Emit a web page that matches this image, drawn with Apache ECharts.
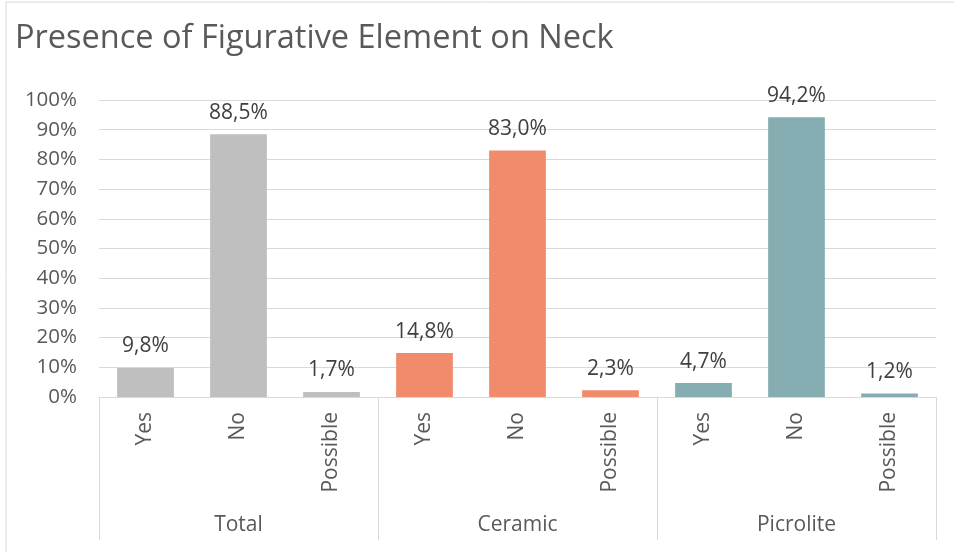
<!DOCTYPE html>
<html>
<head>
<meta charset="utf-8">
<script src="https://cdn.jsdelivr.net/npm/echarts@6/dist/echarts.min.js"></script>
<style>
  html, body { margin: 0; padding: 0; background: #fff; }
  #chart { width: 954px; height: 552px; }
</style>
</head>
<body>
<div id="chart"></div>
<script>
// data
var groups = ['Total', 'Ceramic', 'Picrolite'];
var answers = ['Yes', 'No', 'Possible'];
var totalValues = [9.8, 88.5, 1.7];
var ceramicValues = [14.8, 83.0, 2.3];
var picroliteValues = [4.7, 94.2, 1.2];
var groupColors = ['#BFBFBF', '#F08B6C', '#86AEB2'];
var yTicks = [0, 10, 20, 30, 40, 50, 60, 70, 80, 90, 100];

var font = '"Open Sans", "Noto Sans", sans-serif';
var allValues = [totalValues, ceramicValues, picroliteValues];

// flatten into the 9 bars of the two-level axis
var categories = [];
var barData = [];
groups.forEach(function (g, gi) {
    answers.forEach(function (a, ai) {
        categories.push(a);
        barData.push({ value: allValues[gi][ai], itemStyle: { color: groupColors[gi] } });
    });
});

var chart = echarts.init(document.getElementById('chart'));

var option = {
    animation: false,
    title: {
        text: 'Presence of Figurative Element on Neck',
        left: 10,
        top: 17,
        textStyle: { fontFamily: font, fontSize: 32.5, fontWeight: 'normal', color: '#595959' }
    },
    graphic: [{
        type: 'rect',
        shape: { x: 6, y: 2, width: 960, height: 560 },
        style: { fill: 'none', stroke: '#d9d9d9', lineWidth: 1 },
        silent: true
    }],
    grid: { left: 99, right: 18, top: 100, bottom: 155 },
    xAxis: [{
        type: 'category',
        data: categories,
        position: 'bottom',
        axisLine: { show: true, lineStyle: { color: '#d9d9d9', width: 1 } },
        axisTick: { show: false },
        axisLabel: {
            rotate: 90,
            margin: 15,
            fontFamily: font,
            fontSize: 21,
            color: '#595959',
            interval: 0
        }
    }, {
        type: 'category',
        data: groups,
        position: 'bottom',
        axisLine: { show: false },
        axisTick: { show: true, length: 143, lineStyle: { color: '#d9d9d9', width: 1 } },
        axisLabel: {
            margin: 118,
            fontFamily: font,
            fontSize: 21,
            color: '#595959',
            interval: 0
        }
    }],
    yAxis: {
        type: 'value',
        min: yTicks[0],
        max: yTicks[yTicks.length - 1],
        interval: yTicks[1] - yTicks[0],
        axisLine: { show: false },
        axisTick: { show: false },
        splitLine: { lineStyle: { color: '#d9d9d9', width: 1 } },
        axisLabel: {
            margin: 22,
            fontFamily: font,
            fontSize: 20.5,
            color: '#595959',
            formatter: '{value}%'
        }
    },
    series: [{
        type: 'bar',
        xAxisIndex: 0,
        data: barData,
        barCategoryGap: '39%',
        label: {
            show: true,
            position: 'top',
            distance: 11,
            fontFamily: font,
            fontSize: 21,
            color: '#404040',
            formatter: function (p) {
                return p.value.toFixed(1).replace('.', ',') + '%';
            }
        }
    }]
};

chart.setOption(option);
</script>
</body>
</html>
